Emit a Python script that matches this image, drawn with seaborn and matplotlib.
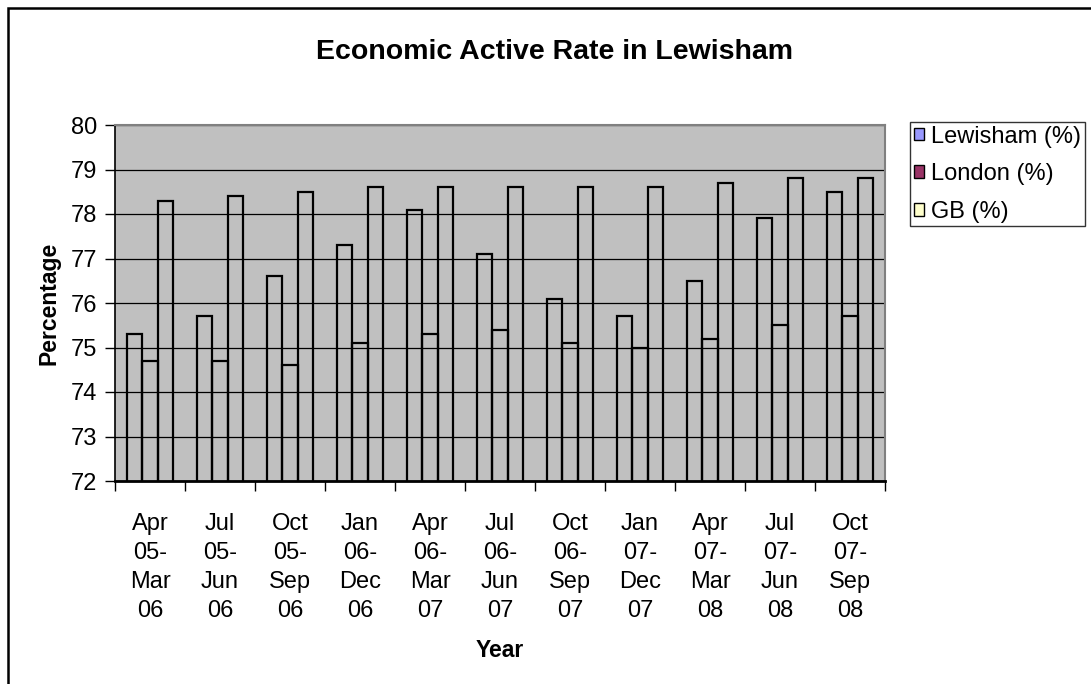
import matplotlib
matplotlib.use("Agg")
import matplotlib.pyplot as plt
import pandas as pd
import seaborn as sns
from matplotlib.patches import Patch, Rectangle

# Data
periods = ["Apr\n05-\nMar\n06", "Jul\n05-\nJun\n06", "Oct\n05-\nSep\n06", "Jan\n06-\nDec\n06",
           "Apr\n06-\nMar\n07", "Jul\n06-\nJun\n07", "Oct\n06-\nSep\n07", "Jan\n07-\nDec\n07",
           "Apr\n07-\nMar\n08", "Jul\n07-\nJun\n08", "Oct\n07-\nSep\n08"]
lewisham = [75.3, 75.7, 76.6, 77.3, 78.1, 77.1, 76.1, 75.7, 76.5, 77.9, 78.5]
london = [74.7, 74.7, 74.6, 75.1, 75.3, 75.4, 75.1, 75.0, 75.2, 75.5, 75.7]
gb = [78.3, 78.4, 78.5, 78.6, 78.6, 78.6, 78.6, 78.6, 78.7, 78.8, 78.8]
series_names = ["Lewisham (%)", "London (%)", "GB (%)"]
series_colors = ["#9999FF", "#993366", "#FFFFCC"]

df = pd.DataFrame({
    "period": periods * 3,
    "series": [series_names[0]] * 11 + [series_names[1]] * 11 + [series_names[2]] * 11,
    "value": lewisham + london + gb,
})

sns.set_theme(style="white")
plt.rcParams["font.family"] = ["Liberation Sans", "DejaVu Sans"]
plt.rcParams["text.color"] = "black"
plt.rcParams["axes.labelcolor"] = "black"
plt.rcParams["xtick.color"] = "black"
plt.rcParams["ytick.color"] = "black"

fig = plt.figure(figsize=(10.91, 6.84), dpi=100)
ax = fig.add_axes([115 / 1091, 1 - 481 / 684, 770 / 1091, 356 / 684])
ax.set_facecolor("#C0C0C0")

sns.barplot(data=df, x="period", y="value", hue="series", order=periods,
            hue_order=series_names, palette=series_colors, width=0.67,
            legend=False, ax=ax, zorder=3)

# bars are drawn as outlines only
for p in ax.patches:
    p.set_facecolor("none")
    p.set_edgecolor("black")
    p.set_linewidth(1.6)

ax.set_ylim(72, 80)
ax.set_xlim(-0.5, 10.5)
ax.set_yticks(range(72, 81))
ax.yaxis.grid(True, color="black", linewidth=0.9)
ax.set_axisbelow(True)

ax.set_xticks(range(11))
ax.set_xticklabels(periods, linespacing=1.42)
ax.set_xticks([i - 0.5 for i in range(12)], minor=True)
ax.tick_params(axis="x", which="major", length=0, pad=23, labelsize=17)
ax.tick_params(axis="x", which="minor", length=7, width=1, color="black", direction="out", bottom=True)
ax.tick_params(axis="y", length=7, width=1, color="black", direction="out", left=True, pad=6, labelsize=17)

for side in ["top", "right"]:
    ax.spines[side].set_color("#808080")
    ax.spines[side].set_linewidth(1.5)
for side in ["left", "bottom"]:
    ax.spines[side].set_color("black")
    ax.spines[side].set_linewidth(1.2)
ax.spines["bottom"].set_linewidth(2)

ax.set_xlabel("Year", fontsize=16.5, fontweight="bold", labelpad=12)
ax.set_ylabel("Percentage", fontsize=16.5, fontweight="bold", labelpad=7)

fig.text(554 / 1091, 1 - 52 / 684, "Economic Active Rate in Lewisham", ha="center", va="center",
         fontsize=20.5, fontweight="bold")

handles = [Patch(facecolor=c, edgecolor="black", linewidth=1) for c in series_colors]
leg = fig.legend(handles, series_names, loc="upper left", bbox_to_anchor=(910 / 1091, 1 - 122 / 684),
                 fontsize=17, frameon=True, fancybox=False, handlelength=0.45, handleheight=0.45,
                 handletextpad=0.3, labelspacing=0.66, borderpad=0.15, borderaxespad=0)
leg.get_frame().set_edgecolor("black")
leg.get_frame().set_linewidth(1)

# outer chart frame
fig.patches.append(Rectangle((8 / 1091, -0.1), 1.2, 1 - 8 / 684 + 0.1, transform=fig.transFigure,
                             fill=False, edgecolor="black", linewidth=1.8))

fig.savefig("out.png", dpi=100)
